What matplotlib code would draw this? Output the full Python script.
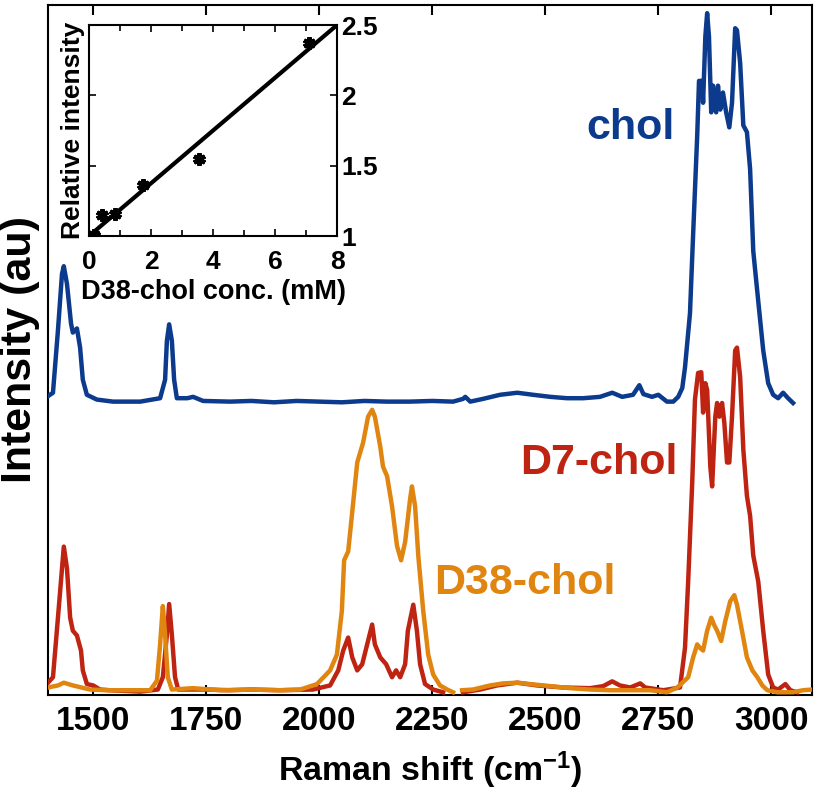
import numpy as np
import matplotlib
matplotlib.use("Agg")
import matplotlib.pyplot as plt
from matplotlib.ticker import MultipleLocator

plt.rcParams['font.family'] = ['Liberation Sans', 'DejaVu Sans']
plt.rcParams['font.weight'] = 'bold'
plt.rcParams['mathtext.fontset'] = 'custom'
plt.rcParams['mathtext.rm'] = 'Liberation Sans:bold'
plt.rcParams['mathtext.bf'] = 'Liberation Sans:bold'
plt.rcParams['mathtext.default'] = 'bf'

nan = np.nan

# ---------------- spectra (Raman shift cm^-1, intensity au) ----------------
chol_x = [1400, 1411, 1422, 1431, 1435, 1442, 1451, 1455, 1464, 1471, 1477, 1486, 1508, 1544,
          1604, 1648, 1659, 1663, 1668, 1674, 1679, 1685, 1708, 1721, 1743, 1803, 1850, 1900,
          1950, 2000, 2050, 2100, 2150, 2200, 2250, 2296, 2318, 2323, 2334, 2362, 2400, 2438,
          2473, 2511, 2548, 2584, 2621, 2648, 2670, 2694, 2708, 2717, 2736, 2750, 2769, 2783,
          2794, 2803, 2809, 2820, 2827, 2836, 2840, 2847, 2849, 2854, 2858, 2862, 2867, 2871,
          2878, 2882, 2887, 2893, 2900, 2907, 2913, 2920, 2924, 2931, 2938, 2946, 2953, 2960,
          2971, 2982, 2993, 3004, 3015, 3026, 3037, 3048]
chol_y = [43.3, 43.8, 52.9, 61.2, 62.3, 59.7, 53.9, 52.6, 53.2, 50.4, 45.7, 43.5, 42.8, 42.5,
          42.5, 43.0, 45.7, 51.4, 53.8, 51.4, 45.7, 43.0, 43.0, 43.2, 42.6, 42.5, 42.6, 42.4,
          42.6, 42.5, 42.4, 42.6, 42.5, 42.5, 42.6, 42.5, 42.9, 43.2, 42.5, 42.9, 43.5, 43.8,
          43.5, 43.2, 43.0, 43.0, 43.2, 43.8, 43.2, 43.5, 44.9, 43.6, 43.2, 43.5, 42.5, 42.5,
          43.2, 44.5, 47.5, 55.4, 67.0, 81.4, 89.4, 89.4, 86.2, 95.9, 99.3, 95.9, 84.8, 88.7,
          84.8, 88.7, 85.2, 87.7, 84.8, 82.6, 86.2, 97.1, 96.8, 92.0, 82.9, 81.9, 76.5, 64.5,
          57.2, 50.0, 45.2, 43.5, 43.0, 43.8, 43.0, 42.3]

d7_x = [1400, 1411, 1422, 1431, 1435, 1442, 1449, 1455, 1464, 1473, 1477, 1486, 1500, 1515,
        1537, 1604, 1643, 1654, 1663, 1668, 1674, 1681, 1688, 1752, 1800, 1850, 1913, 1986,
        2024, 2042, 2053, 2064, 2073, 2084, 2095, 2106, 2117, 2123, 2135, 2148, 2161, 2170,
        2179, 2190, 2196, 2208, 2216, 2223, 2234, 2252, 2274, 2296, 2318, 2356, 2393, 2438,
        2482, 2539, 2599, 2628, 2648, 2665, 2688, 2710, 2721, 2761, 2798, 2809, 2816, 2825,
        2831, 2838, 2845, 2849, 2854, 2858, 2865, 2869, 2876, 2880, 2885, 2891, 2896, 2902,
        2907, 2913, 2920, 2924, 2931, 2938, 2946, 2953, 2960, 2971, 2982, 2993, 3004, 3015,
        3031, 3042, 3057]
d7_y = [1.4, 2.2, 10.9, 18.1, 21.3, 18.1, 10.9, 9.0, 8.3, 6.1, 3.2, 1.2, 1.0, 0.4,
        0.3, 0.1, 0.4, 2.2, 8.4, 12.9, 8.4, 2.2, 0.4, 0.4, 0.3, 0.4, 0.3, 0.4,
        1.0, 3.2, 6.1, 8.0, 5.1, 3.2, 4.1, 7.0, 9.9, 7.0, 5.1, 4.1, 2.2, 3.2,
        2.2, 4.1, 9.0, 12.8, 9.0, 4.1, 1.2, 0.4, 0.0, nan, 0.0, 0.4, 1.0, 1.4,
        1.0, 0.7, 0.6, 0.9, 1.6, 1.0, 0.7, 1.3, 0.7, 0.3, 0.7, 6.5, 16.2, 30.7,
        42.8, 46.7, 46.8, 40.9, 45.2, 44.2, 33.0, 30.1, 40.3, 42.3, 40.3, 42.3, 39.4, 33.6,
        33.6, 40.3, 50.0, 50.4, 46.1, 35.5, 28.7, 25.8, 20.0, 16.2, 9.0, 2.6, 0.7, 0.4,
        1.2, 0.3, 0.0]

d38_x = [1400, 1422, 1435, 1455, 1493, 1531, 1626, 1641, 1648, 1654, 1659, 1665, 1674, 1721,
         1781, 1850, 1913, 1958, 1995, 2024, 2039, 2050, 2055, 2064, 2073, 2084, 2097, 2108,
         2117, 2123, 2135, 2141, 2150, 2161, 2172, 2181, 2190, 2201, 2205, 2212, 2219, 2230,
         2241, 2252, 2267, 2283, 2296, 2306, 2316, 2340, 2378, 2407, 2438, 2466, 2511, 2555,
         2599, 2643, 2688, 2732, 2769, 2792, 2816, 2827, 2836, 2842, 2849, 2858, 2867, 2873,
         2880, 2889, 2898, 2909, 2918, 2924, 2935, 2946, 2958, 2969, 2980, 2991, 3013, 3048,
         3070, 3090]
d38_y = [0.7, 1.0, 1.4, 1.0, 0.4, 0.3, 0.3, 1.7, 7.0, 12.6, 8.4, 2.2, 0.4, 0.6,
         0.3, 0.4, 0.3, 0.4, 1.2, 3.2, 5.5, 11.9, 19.3, 20.6, 26.4, 33.6, 36.5, 40.3,
         41.3, 40.3, 35.9, 33.0, 31.6, 27.2, 21.4, 19.3, 22.0, 28.3, 30.1, 27.2, 20.0, 11.9,
         5.5, 2.6, 1.0, 0.4, 0.0, nan, 0.3, 0.4, 1.0, 1.3, 1.4, 1.2, 0.9, 0.6,
         0.4, 0.3, 0.3, 0.3, 0.0, 0.7, 2.2, 5.1, 7.0, 6.5, 6.1, 9.0, 10.9, 9.9,
         9.0, 7.5, 10.4, 13.3, 14.2, 12.8, 9.0, 5.1, 3.2, 2.2, 1.0, 0.3, 0.0, 0.0,
         0.3, 0.4]

x_ticks = [1500, 1750, 2000, 2250, 2500, 2750, 3000]

# ---------------- inset (calibration) ----------------
conc = [0.15, 0.42, 0.83, 1.74, 3.54, 7.1]
rel_int = [1.01, 1.15, 1.16, 1.36, 1.55, 2.37]
fit_x = [0.0, 8.0]
fit_y = [1.0, 2.5]

BLUE = '#0c3a8c'
RED = '#bf2412'
ORANGE = '#e0850f'

fig = plt.figure(figsize=(8.19, 8.02), dpi=100)
ax = fig.add_axes([0.0586, 0.1334, 0.9329, 0.8604])

lw = 3.2
ax.plot(d7_x, d7_y, color=RED, lw=lw, solid_joinstyle='round', zorder=3)
ax.plot(d38_x, d38_y, color=ORANGE, lw=lw, solid_joinstyle='round', zorder=4)
ax.plot(chol_x, chol_y, color=BLUE, lw=lw, solid_joinstyle='round', zorder=3)

ax.set_xlim(1400, 3090)
ax.set_ylim(-0.4, 100.5)
ax.set_xticks(x_ticks)
ax.set_yticks([])
ax.tick_params(axis='x', direction='in', top=True, length=7, width=1.5, labelsize=24, pad=8)
for lab in ax.get_xticklabels():
    lab.set_fontweight('bold')
for sp in ax.spines.values():
    sp.set_linewidth(1.5)

ax.set_xlabel('Raman shift (cm$^{-1}$)', fontsize=24.5, fontweight='bold', labelpad=9)
ax.set_ylabel('Intensity (au)', fontsize=31, fontweight='bold', labelpad=6)

ax.text(2590, 82.5, 'chol', color=BLUE, fontsize=31, fontweight='bold', va='center', ha='left')
ax.text(2445, 33.5, 'D7-chol', color=RED, fontsize=31, fontweight='bold', va='center', ha='left')
ax.text(2255, 16.0, 'D38-chol', color=ORANGE, fontsize=31, fontweight='bold', va='center', ha='left')

# inset
ins = fig.add_axes([0.1087, 0.7057, 0.3028, 0.2631])
ins.plot(fit_x, fit_y, color='black', lw=3, zorder=2)
ins.plot(conc, rel_int, linestyle='none', marker=(6, 2, 0), markersize=9,
         markeredgewidth=3, color='black', zorder=3)
ins.set_xlim(0, 8)
ins.set_ylim(1, 2.5)
ins.xaxis.set_major_locator(MultipleLocator(2))
ins.xaxis.set_minor_locator(MultipleLocator(1))
ins.set_yticks([1, 1.5, 2, 2.5])
ins.set_yticklabels(['1', '1.5', '2', '2.5'])
ins.tick_params(which='both', direction='in', top=True, bottom=True, left=True, right=True,
                labelleft=False, labelright=True, width=1.2)
ins.tick_params(which='major', length=5, labelsize=19)
ins.tick_params(axis='x', which='major', pad=10)
ins.tick_params(axis='y', which='major', pad=3)
ins.tick_params(which='minor', length=4)
for lab in ins.get_xticklabels() + ins.get_yticklabels():
    lab.set_fontweight('bold')
for sp in ins.spines.values():
    sp.set_linewidth(1.5)
ins.set_xlabel('D38-chol conc. (mM)', fontsize=19.5, fontweight='bold', labelpad=4)
ins.set_ylabel('Relative intensity', fontsize=19, fontweight='bold', labelpad=3)

fig.savefig('out.png', dpi=100)
